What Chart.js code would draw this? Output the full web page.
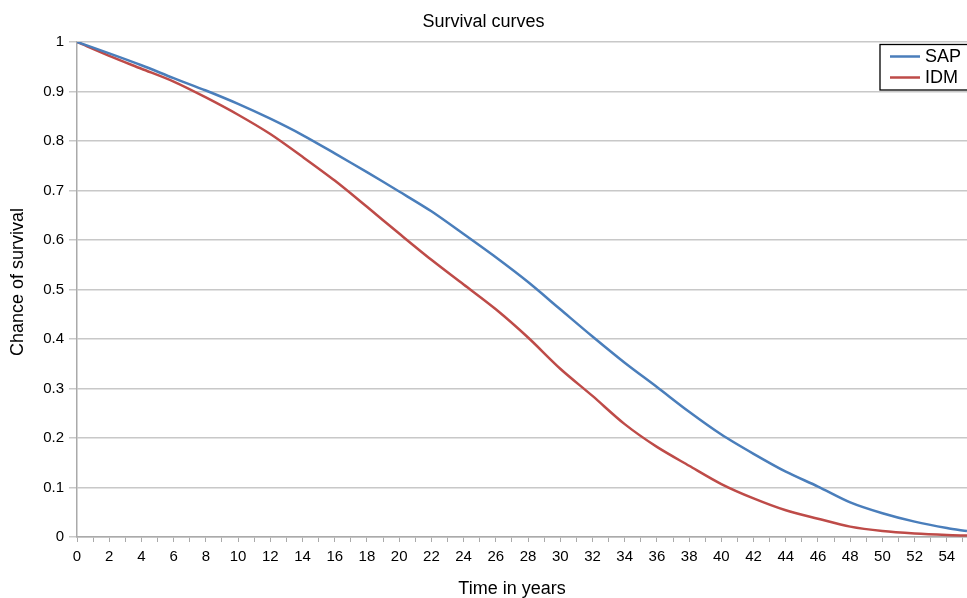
<!DOCTYPE html>
<html><head><meta charset="utf-8">
<script src="https://cdn.jsdelivr.net/npm/chart.js@4/dist/chart.umd.min.js"></script>
<style>html,body{margin:0;padding:0;background:#fff}#wrap{width:967px;height:598px}</style>
</head><body><div id="wrap"><canvas id="c"></canvas></div>
<script>
const years = [0,2,4,6,8,10,12,14,16,18,20,22,24,26,28,30,32,34,36,38,40,42,44,46,48,50,52,54,55.25];
const sapValues = [1,0.977,0.953,0.927,0.902,0.875,0.845,0.812,0.775,0.737,0.698,0.658,0.612,0.565,0.515,0.46,0.405,0.352,0.303,0.253,0.207,0.168,0.132,0.102,0.07,0.048,0.031,0.018,0.012];
const idmValues = [1,0.972,0.946,0.92,0.888,0.853,0.814,0.768,0.72,0.667,0.613,0.56,0.51,0.46,0.403,0.34,0.285,0.228,0.182,0.144,0.107,0.078,0.054,0.037,0.021,0.012,0.007,0.004,0.003];
const xTickLabels = [0,2,4,6,8,10,12,14,16,18,20,22,24,26,28,30,32,34,36,38,40,42,44,46,48,50,52,54];
const yTickLabels = [0,0.1,0.2,0.3,0.4,0.5,0.6,0.7,0.8,0.9,1];
const seriesNames = ['SAP','IDM'];
const seriesColors = ['#4a7ebb','#be4b48'];
const FONT = "'Liberation Sans', Arial, sans-serif";

const legendPlugin = {
  id: 'boxLegend',
  afterDraw(chart){
    const ctx = chart.ctx;
    ctx.save();
    ctx.strokeStyle = '#000'; ctx.lineWidth = 1.3;
    ctx.fillStyle = '#fff';
    ctx.fillRect(880, 44.5, 100, 45.5);
    ctx.strokeRect(880, 44.5, 100, 45.5);
    chart.data.datasets.forEach((ds, i) => {
      const y = 56.5 + i * 21;
      ctx.strokeStyle = ds.borderColor; ctx.lineWidth = 2.5;
      ctx.beginPath(); ctx.moveTo(890, y); ctx.lineTo(920, y); ctx.stroke();
      ctx.fillStyle = '#000'; ctx.font = '18px ' + FONT;
      ctx.textBaseline = 'middle'; ctx.textAlign = 'left';
      ctx.fillText(ds.label, 925, y + 1);
    });
    ctx.restore();
  }
};

new Chart(document.getElementById('c'), {
  type: 'line',
  data: {
    datasets: [
      {label: seriesNames[0], data: years.map((x,i)=>({x, y: sapValues[i]})), borderColor: seriesColors[0], borderWidth: 2.5, pointRadius: 0, tension: 0.3, fill: false},
      {label: seriesNames[1], data: years.map((x,i)=>({x, y: idmValues[i]})), borderColor: seriesColors[1], borderWidth: 2.5, pointRadius: 0, tension: 0.3, fill: false}
    ]
  },
  options: {
    responsive: true, maintainAspectRatio: false, animation: false,
    layout: {padding: 0},
    plugins: {
      legend: {display: false},
      tooltip: {enabled: false},
      title: {display: true, text: 'Survival curves', color: '#000', font: {family: FONT, size: 18, weight: 'normal'}, padding: {top: 11, bottom: 9.4}}
    },
    scales: {
      x: {
        type: 'linear', min: 0, max: 55.25,
        afterBuildTicks(s){ const t=[]; for(let v=0; v<=55; v++) t.push({value:v}); s.ticks = t; },
        afterFit(s){ s.height = 61; s.paddingRight = 0; s.paddingLeft = 0; },
        ticks: {autoSkip: false, maxRotation: 0, color: '#000', font: {family: FONT, size: 15}, padding: 6,
          callback: (v) => xTickLabels.includes(v) ? String(v) : ''},
        grid: {drawOnChartArea: false, drawTicks: true, tickLength: 5, color: '#aaa', lineWidth: 1},
        border: {display: true, color: '#aaa', width: 1.5},
        title: {display: true, text: 'Time in years    ', color: '#000', font: {family: FONT, size: 18}, padding: {top: 0, bottom: -2}}
      },
      y: {
        min: 0, max: 1,
        afterBuildTicks(s){ s.ticks = yTickLabels.map(v=>({value:v})); },
        afterFit(s){ s.width = 77; },
        ticks: {color: '#000', font: {family: FONT, size: 15}, padding: 5, callback: (v)=> String(Math.round(v*10)/10)},
        grid: {color: '#c8c8c8', lineWidth: 1.5, tickLength: 8, drawTicks: true},
        border: {display: true, color: '#aaa', width: 1.5},
        title: {display: true, text: '   Chance of survival', color: '#000', font: {family: FONT, size: 18}, padding: {top: 7, bottom: 0}}
      }
    }
  },
  plugins: [legendPlugin]
});
</script></body></html>
